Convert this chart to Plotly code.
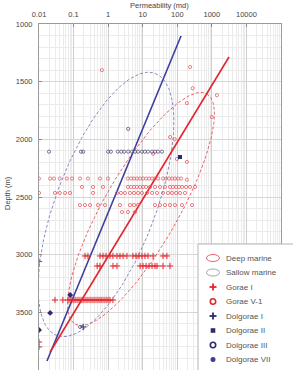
import numpy as np
import plotly.graph_objects as go

# ---------------- data (permeability md, depth m) ----------------
gorae_v1_perm = [0.66, 235, 280, 1400, 190, 1000, 62, 85, 98, 190, 20,
                 # ~2340 m
                 0.01, 0.021, 0.027, 0.040, 0.064, 0.090, 0.153, 0.26, 0.58, 0.99,
                 3.7, 4.6, 5.6, 6.8, 8.3, 10.2, 12.5, 15.2, 18.6, 22.7, 27.7,
                 38.6, 47, 58, 71, 86, 105, 129, 190,
                 # ~2413 m
                 0.175, 0.365, 0.71, 3.75, 4.6, 5.6, 6.8, 8.4, 10.2, 12.5, 16.3, 22.7,
                 31.6, 44, 61.5, 75, 92, 112, 137, 179, 233, 326,
                 # ~2465 m
                 0.01, 0.029, 0.040, 0.057, 0.079, 0.365, 1.8, 2.35, 3.07, 4.29, 5.6,
                 7.3, 9.5, 13.3, 18.6, 25.9, 38.6, 54, 70, 92, 120, 167,
                 # ~2570 m
                 0.153, 0.214, 0.299, 0.509, 0.81, 2.2, 4.29, 5.6, 7.3, 22.7, 31.6,
                 44, 61.5, 86, 137, 267,
                 # ~2630 m
                 2.52, 3.75, 6.0]
gorae_v1_depth = ([1400, 1373, 1557, 1617, 1686, 1806, 1980, 2000, 2170, 2196, 2125]
                  + [2340] * 28 + [2350]
                  + [2413] * 22
                  + [2465] * 22
                  + [2570] * 16
                  + [2630] * 3)

gorae_i_perm = [0.01, 0.01, 0.01,
                # ~3011 m
                0.214, 0.261, 0.58, 0.71, 0.87, 1.13, 1.38, 1.8, 2.2, 2.7, 3.5,
                5.2, 6.4, 7.8, 9.5, 11.6, 14.2, 19.9, 38.6, 50,
                # ~3098 m
                0.48, 0.58, 1.38, 1.8, 8.4, 10.2, 12.5, 15.2, 18.6, 22.7, 25.9, 38.6, 61.5,
                # ~3393 m
                0.029, 0.049, 0.069, 0.079, 0.090, 0.103, 0.117, 0.134, 0.153, 0.175,
                0.200, 0.229, 0.261, 0.299, 0.341, 0.390, 0.445, 0.509, 0.58, 0.66,
                0.76, 0.87, 0.99, 1.13, 1.38]
gorae_i_depth = [3060, 3757, 3800] + [3011] * 20 + [3098] * 13 + [3393] * 25

dolgorae_i_perm = [0.19]
dolgorae_i_depth = [3627]

dolgorae_ii_perm = [120]
dolgorae_ii_depth = [2153]

dolgorae_iii_perm = [0.0195, 0.164, 0.19, 1.0, 1.2, 1.9, 2.4, 2.9, 3.8, 4.9, 6.0, 7.3,
                     9.5, 11.6, 14.2, 18.6, 22.7, 27.6, 36, 3.8, 0.155]
dolgorae_iii_depth = [2107] * 19 + [1910, 3627]

dolgorae_vii_perm = [0.08, 0.021, 0.01]
dolgorae_vii_depth = [3350, 3505, 3653]

# regression lines (end points: perm, depth)
sallow_line_perm = [0.017, 128]
sallow_line_depth = [3922, 1104]
deep_line_perm = [0.021, 3130]
deep_line_depth = [3844, 1286]

# ellipse parameters in (log10 perm, depth): centre, major vector, minor vector
deep_ellipse = dict(c=(0.951, 2604), u=(1.906, -998), v=(0.937, 160))
sallow_ellipse = dict(c=(-0.062, 2565), u=(1.424, -1136), v=(1.354, 153))

x_tick_vals = [0.01, 0.1, 1, 10, 100, 1000, 10000, 100000]
x_tick_text = ["0.01", "0.1", "1", "10", "100", "1000", "10000", "100000"]
y_tick_vals = [1000, 1500, 2000, 2500, 3000, 3500, 4000]

legend_labels = ["Deep marine", "Sallow marine", "Gorae I", "Gorae V-1",
                 "Dolgorae I", "Dolgorae II", "Dolgorae III", "Dolgorae VII"]

RED = "#e3262d"
NAVY = "#2b2c6e"
BLUE = "#3d3f9c"

def ellipse_pts(e, n=240):
    t = np.linspace(0, 2 * np.pi, n)
    lk = e["c"][0] + e["u"][0] * np.cos(t) + e["v"][0] * np.sin(t)
    d = e["c"][1] + e["u"][1] * np.cos(t) + e["v"][1] * np.sin(t)
    return 10 ** lk, d

fig = go.Figure()

ex, ey = ellipse_pts(sallow_ellipse)
fig.add_trace(go.Scatter(x=ex, y=ey, mode="lines",
                         line=dict(color="#7b7fb5", width=0.9, dash="3px,2px")))
ex, ey = ellipse_pts(deep_ellipse)
fig.add_trace(go.Scatter(x=ex, y=ey, mode="lines",
                         line=dict(color="#e5505a", width=0.9, dash="3px,2px")))

fig.add_trace(go.Scatter(x=sallow_line_perm, y=sallow_line_depth, mode="lines",
                         line=dict(color=BLUE, width=1.6)))
fig.add_trace(go.Scatter(x=deep_line_perm, y=deep_line_depth, mode="lines",
                         line=dict(color=RED, width=1.6)))

fig.add_trace(go.Scatter(x=gorae_v1_perm, y=gorae_v1_depth, mode="markers",
                         marker=dict(symbol="circle-open", size=3.2, color="#ea5e66",
                                     line=dict(width=0.8))))
fig.add_trace(go.Scatter(x=gorae_i_perm, y=gorae_i_depth, mode="markers",
                         marker=dict(symbol="cross-thin-open", size=4.5, color=RED,
                                     line=dict(width=1.0, color=RED))))
fig.add_trace(go.Scatter(x=dolgorae_iii_perm, y=dolgorae_iii_depth, mode="markers",
                         marker=dict(symbol="circle-open", size=3.2, color="#555577",
                                     line=dict(width=0.8))))
fig.add_trace(go.Scatter(x=dolgorae_i_perm, y=dolgorae_i_depth, mode="markers",
                         marker=dict(symbol="cross-thin-open", size=4.5, color=NAVY,
                                     line=dict(width=1.0, color=NAVY))))
fig.add_trace(go.Scatter(x=dolgorae_ii_perm, y=dolgorae_ii_depth, mode="markers",
                         marker=dict(symbol="square", size=4, color=NAVY)))
fig.add_trace(go.Scatter(x=dolgorae_vii_perm, y=dolgorae_vii_depth, mode="markers",
                         marker=dict(symbol="diamond", size=4.5, color=NAVY)))

# ---------------- axes ----------------
x_minor = [k * 10.0 ** d for d in range(-2, 5) for k in range(2, 10)]
y_minor = list(range(1000, 4001, 100))

fig.update_xaxes(type="log", range=[-2, 5], side="top",
                 tickmode="array", tickvals=x_tick_vals, ticktext=x_tick_text,
                 tickfont=dict(size=7.5, color="#444"),
                 ticks="inside", ticklen=3, tickcolor="#888",
                 showgrid=True, gridcolor="#cfcfcf", gridwidth=0.8,
                 minor=dict(tickvals=x_minor, showgrid=True, gridcolor="#ebebeb", gridwidth=0.7),
                 showline=True, linecolor="#9a9a9a", linewidth=1, mirror=True,
                 zeroline=False, automargin=False, ticklabelstandoff=3)
fig.update_yaxes(range=[4000, 1000], tickmode="array", tickvals=y_tick_vals,
                 tickfont=dict(size=7.5, color="#444"),
                 ticks="inside", ticklen=3, tickcolor="#888",
                 showgrid=True, gridcolor="#d6d6d6", gridwidth=0.8,
                 minor=dict(tickvals=y_minor, showgrid=True, gridcolor="#ebebeb", gridwidth=0.7),
                 showline=True, linecolor="#9a9a9a", linewidth=1, mirror=True,
                 zeroline=False, automargin=False, ticklabelstandoff=4)

# ---------------- layout / manual legend ----------------
L, R, T, B = 39, 281, 24, 370
def px(x):
    return (x - L) / (R - L)
def py(y):
    return 1 - (y - T) / (B - T)

shapes = []
annotations = []
shapes.append(dict(type="rect", xref="paper", yref="paper",
                   x0=px(198), x1=px(305), y0=py(390), y1=py(244),
                   fillcolor="white", line=dict(color="#b5b5b5", width=1), layer="above"))
row_y = [258 + 14.5 * i for i in range(len(legend_labels))]
sx = 213
for i, (lab, yy) in enumerate(zip(legend_labels, row_y)):
    annotations.append(dict(xref="paper", yref="paper", x=px(224), y=py(yy),
                            xanchor="left", yanchor="middle", text=lab, showarrow=False,
                            font=dict(size=8, color="#555")))
# legend icons
shapes.append(dict(type="circle", xref="paper", yref="paper", x0=px(sx - 6.5), x1=px(sx + 6.5),
                   y0=py(row_y[0] + 3.5), y1=py(row_y[0] - 3.5), line=dict(color="#e5505a", width=0.9),
                   layer="above"))
shapes.append(dict(type="circle", xref="paper", yref="paper", x0=px(sx - 6.5), x1=px(sx + 6.5),
                   y0=py(row_y[1] + 3.5), y1=py(row_y[1] - 3.5), line=dict(color="#9a9a9a", width=0.9),
                   layer="above"))
for idx, col in ((2, RED), (4, NAVY)):
    yy = row_y[idx]
    shapes.append(dict(type="line", xref="paper", yref="paper", x0=px(sx - 3.5), x1=px(sx + 3.5),
                       y0=py(yy), y1=py(yy), line=dict(color=col, width=1.8), layer="above"))
    shapes.append(dict(type="line", xref="paper", yref="paper", x0=px(sx), x1=px(sx),
                       y0=py(yy - 3.5), y1=py(yy + 3.5), line=dict(color=col, width=1.8), layer="above"))
for idx, col in ((3, RED), (6, NAVY)):
    yy = row_y[idx]
    shapes.append(dict(type="circle", xref="paper", yref="paper", x0=px(sx - 2.7), x1=px(sx + 2.7),
                       y0=py(yy + 2.7), y1=py(yy - 2.7), line=dict(color=col, width=1.6), layer="above"))
yy = row_y[5]
shapes.append(dict(type="rect", xref="paper", yref="paper", x0=px(sx - 2.3), x1=px(sx + 2.3),
                   y0=py(yy + 2.3), y1=py(yy - 2.3), fillcolor=NAVY, line=dict(width=0), layer="above"))
yy = row_y[7]
shapes.append(dict(type="circle", xref="paper", yref="paper", x0=px(sx - 2.5), x1=px(sx + 2.5),
                   y0=py(yy + 2.5), y1=py(yy - 2.5), fillcolor="#3b3f8e", line=dict(width=0), layer="above"))

annotations.append(dict(xref="paper", yref="paper", x=px(159), y=py(6), text="Permeability (md)",
                        showarrow=False, xanchor="center", yanchor="middle",
                        font=dict(size=7.5, color="#444")))
annotations.append(dict(xref="paper", yref="paper", x=px(7), y=py(193), text="Depth (m)",
                        showarrow=False, xanchor="center", yanchor="middle", textangle=-90,
                        font=dict(size=7.5, color="#444")))

fig.update_layout(width=293, height=370, margin=dict(l=L, r=293 - R, t=T, b=0),
                  paper_bgcolor="white", plot_bgcolor="white", showlegend=False,
                  font=dict(family="Liberation Sans, Arial, sans-serif"),
                  shapes=shapes, annotations=annotations)

fig.write_html("out.html")
